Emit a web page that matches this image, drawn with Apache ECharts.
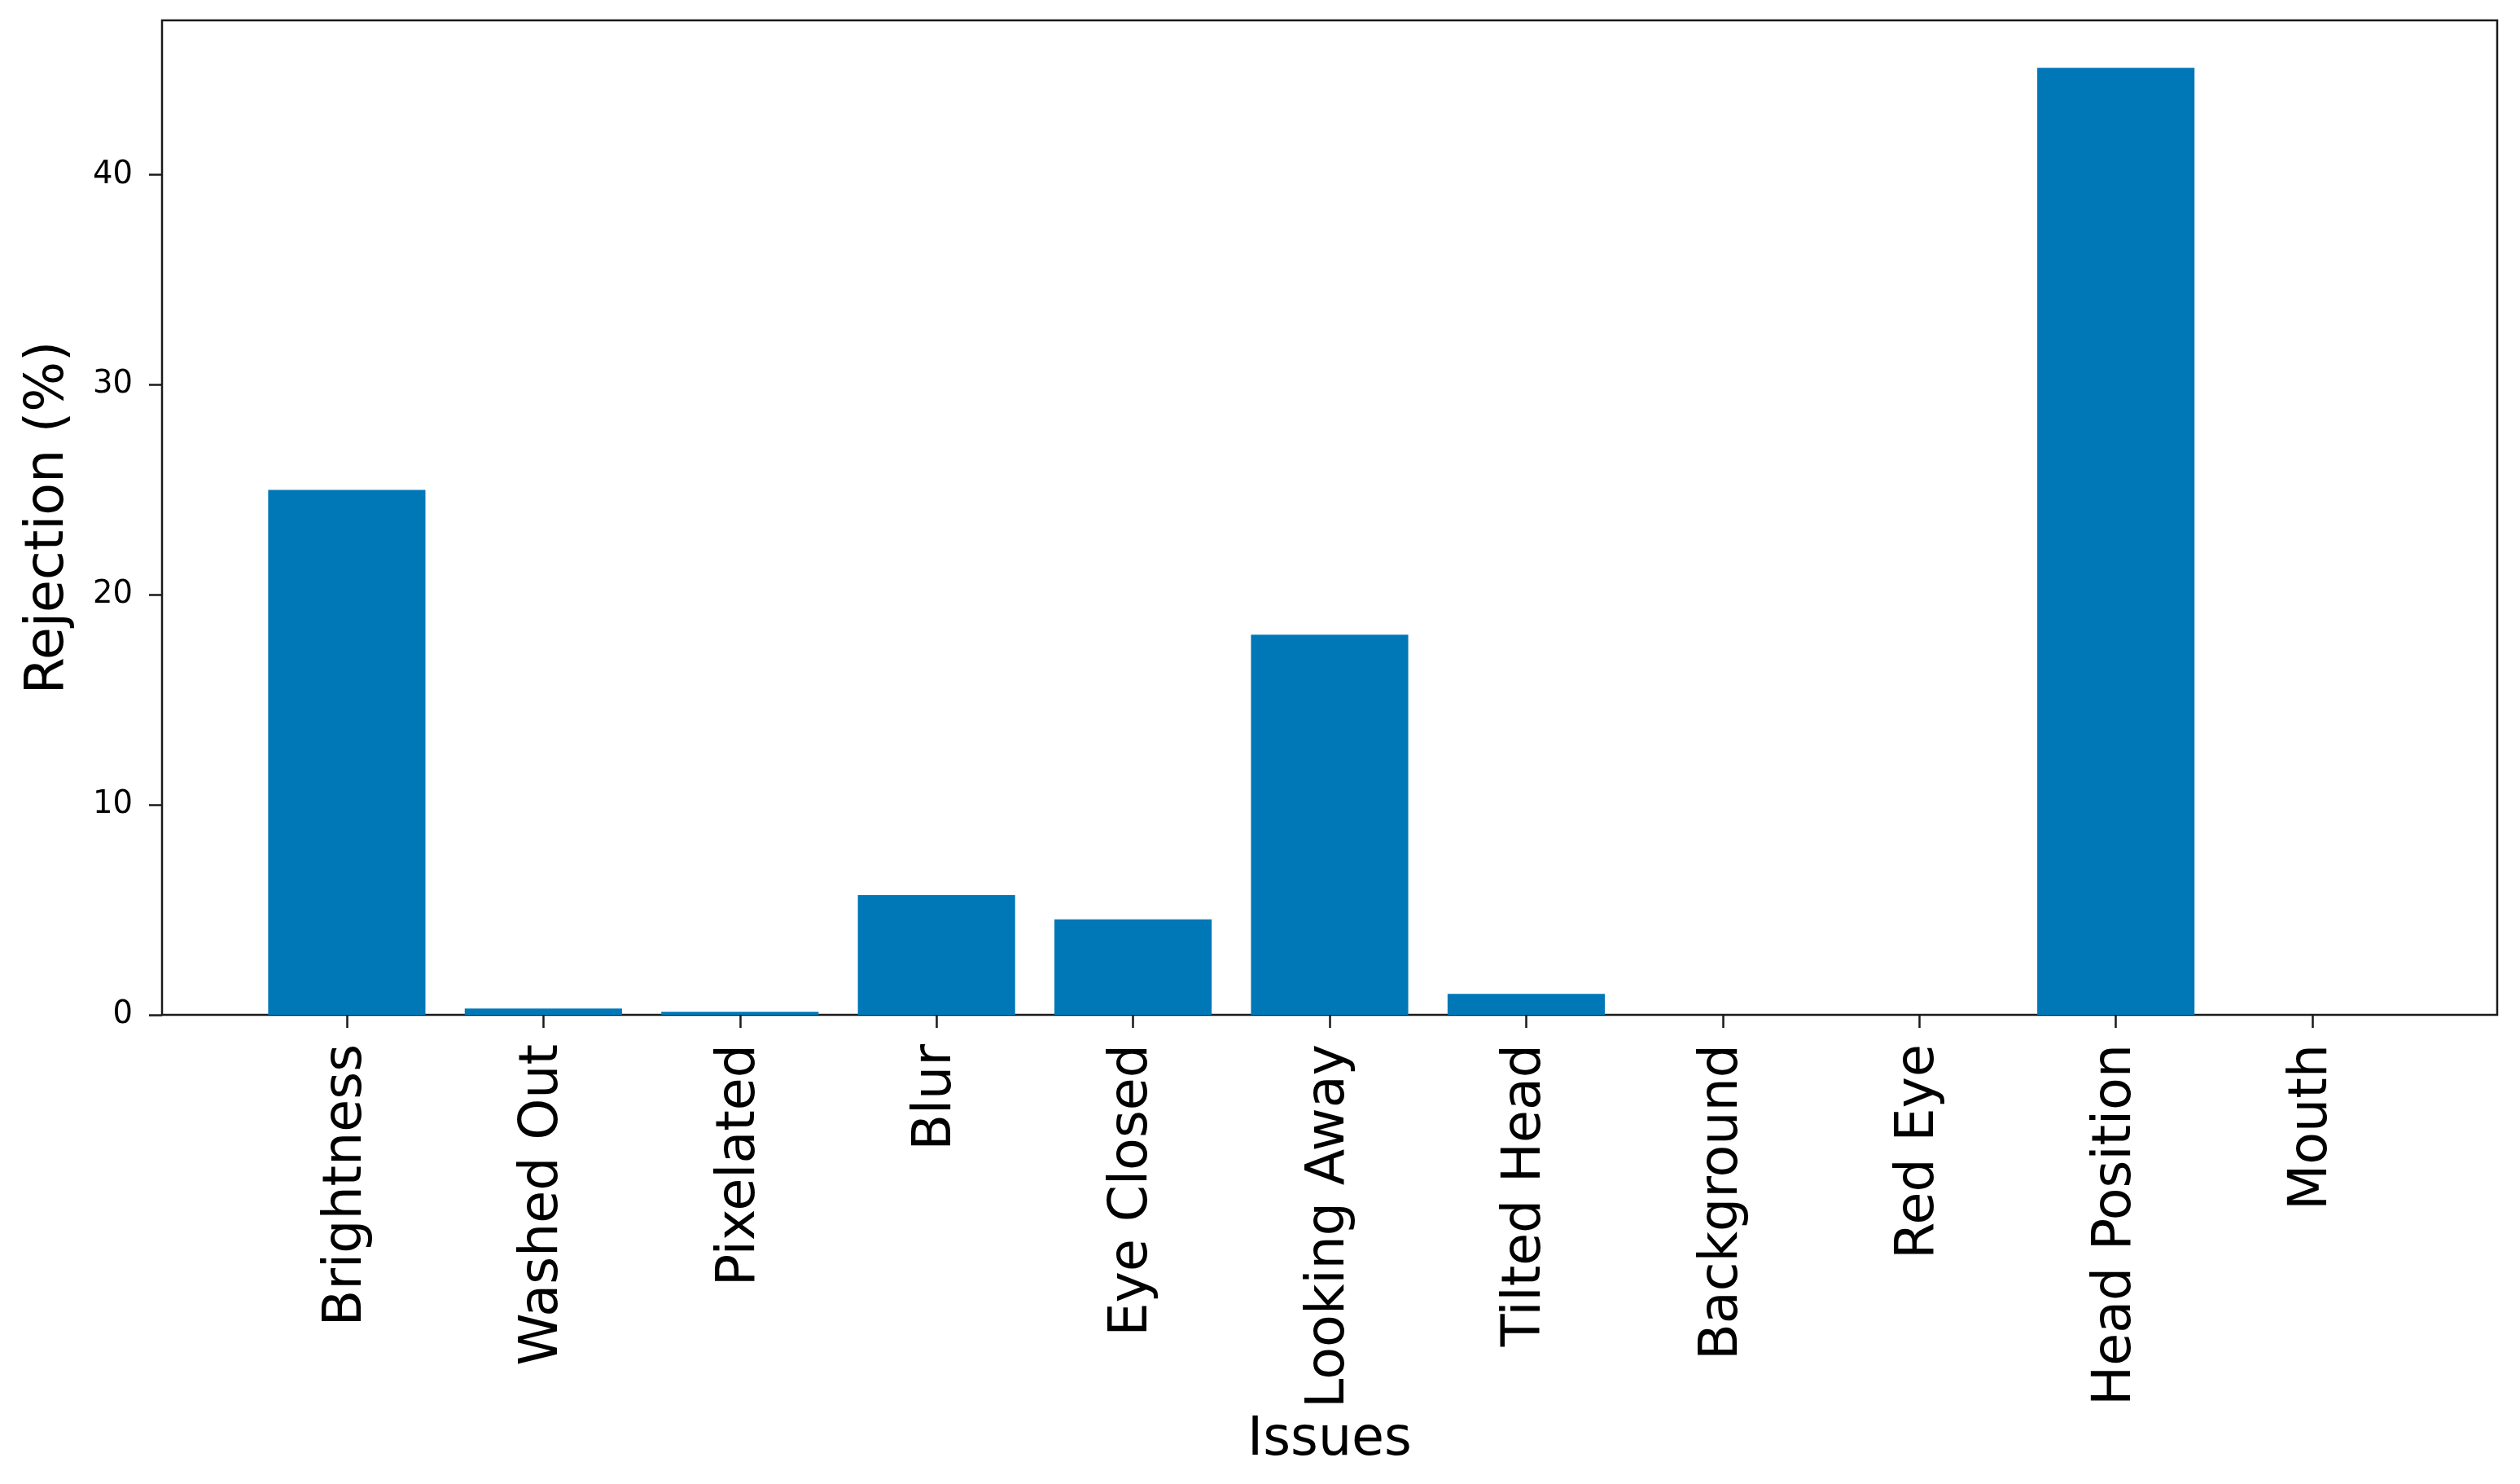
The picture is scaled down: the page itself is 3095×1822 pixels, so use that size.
<!DOCTYPE html>
<html>
<head>
<meta charset="utf-8">
<script src="https://cdn.jsdelivr.net/npm/echarts@6/dist/echarts.min.js"></script>
<style>
  html, body { margin: 0; padding: 0; background: #fff; }
  #chart { width: 3095px; height: 1822px; }
</style>
</head>
<body>
<div id="chart"></div>
<script>
// data
const issues = ['Brightness', 'Washed Out', 'Pixelated', 'Blur', 'Eye Closed', 'Looking Away',
  'Tilted Head', 'Background', 'Red Eye', 'Head Position', 'Mouth'];
const rejection = [25.0, 0.3, 0.15, 5.7, 4.55, 18.1, 1.0, 0, 0, 45.1, 0];
const yTicks = [0, 10, 20, 30, 40];

const font = 'DejaVu Sans';
const barColor = '#0077b7';

// matplotlib-like limits: bars 0.8 wide, 5% margins
const xMin = -0.94, xMax = issues.length - 1 + 0.94;
const yMax = Math.max(...rejection) * 1.05;

const gridLeft = 199, gridRight = 28;
const plotW = 3095 - gridLeft - gridRight;
const barW = plotW / (xMax - xMin) * 0.8;

const chart = echarts.init(document.getElementById('chart'), null, { renderer: 'canvas' });

chart.setOption({
  animation: false,
  backgroundColor: '#fff',
  grid: {
    left: gridLeft, right: gridRight, top: 25, bottom: 576,
    show: true, borderColor: '#1a1a1a', borderWidth: 2.5, backgroundColor: 'transparent'
  },
  xAxis: {
    type: 'value',
    min: xMin, max: xMax,
    name: 'Issues',
    nameLocation: 'middle',
    nameGap: 490,
    nameTextStyle: { fontFamily: font, fontSize: 65, color: '#000' },
    axisLine: { show: false, onZero: false },
    splitLine: { show: false },
    axisTick: {
      show: true, length: 16, customValues: issues.map((d, i) => i),
      lineStyle: { color: '#1a1a1a', width: 2.5 }
    },
    axisLabel: {
      customValues: issues.map((d, i) => i),
      formatter: v => issues[Math.round(v)],
      rotate: 90,
      margin: 36,
      fontFamily: font, fontSize: 65, color: '#000'
    }
  },
  yAxis: {
    type: 'value',
    min: 0, max: yMax,
    name: 'Rejection (%)',
    nameLocation: 'middle',
    nameGap: 106,
    nameTextStyle: { fontFamily: font, fontSize: 65, color: '#000' },
    axisLine: { show: false, onZero: false },
    splitLine: { show: false },
    axisTick: {
      show: true, length: 16, customValues: yTicks,
      lineStyle: { color: '#1a1a1a', width: 2.5 }
    },
    axisLabel: {
      customValues: yTicks,
      margin: 36,
      fontFamily: font, fontSize: 38.5, color: '#000'
    }
  },
  series: [{
    type: 'bar',
    data: rejection.map((v, i) => [i, v]),
    barWidth: barW,
    itemStyle: { color: barColor },
    z: 1
  }]
});
</script>
</body>
</html>
